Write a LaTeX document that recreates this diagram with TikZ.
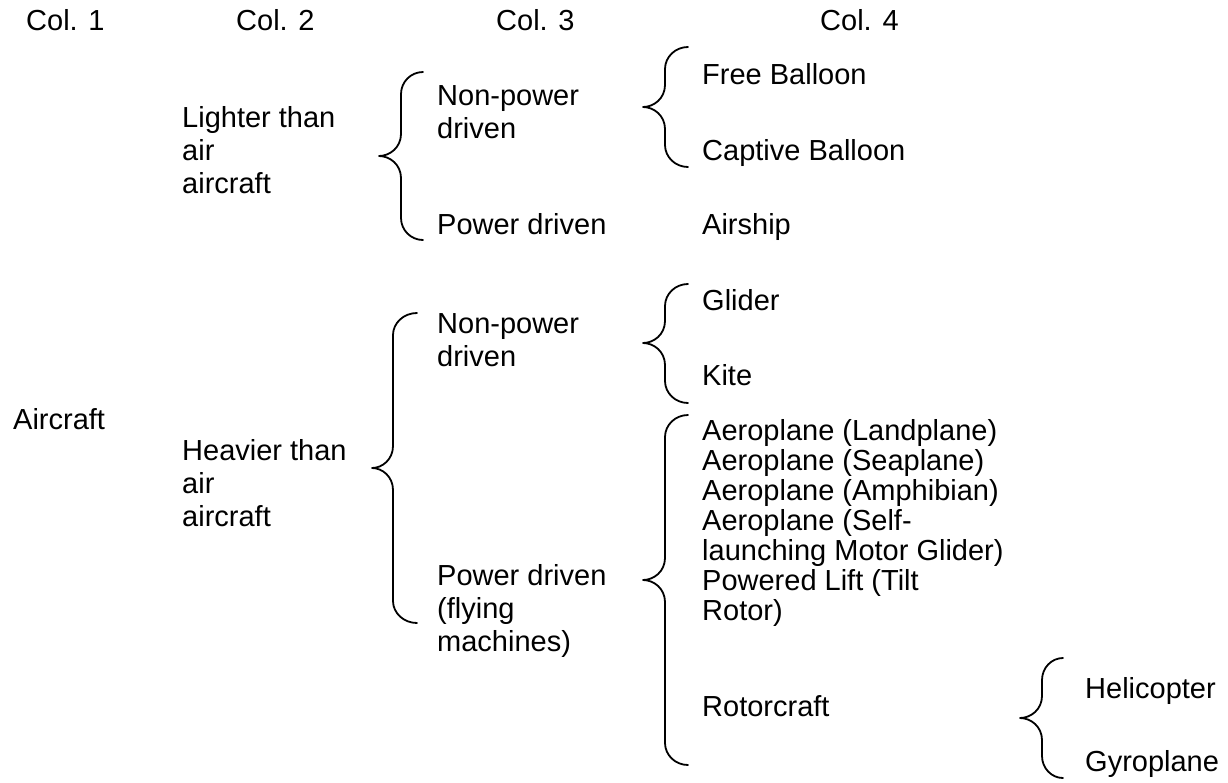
\documentclass[tikz,border=0pt]{standalone}
\usepackage{fontspec}
\setmainfont{Liberation Sans}

% stacked lines with a fixed pitch; the baseline is that of the first line
\newcommand\stackl[2]{\vtop{\baselineskip=#1pt\lineskiplimit=-50pt\lineskip=0pt\relax
  \halign{##\hfil\cr #2\crcr}}}

% left curly brace: #1 end x, #2 stem x, #3 tip x, #4 top y, #5 tip y, #6 bottom y, #7 curve length
\newcommand\bracepath[7]{%
  \draw[bracestyle] (#1,#4)
    .. controls ({#2+0.45*(#1-#2)},#4) and (#2,{#4+0.45*#7}) .. (#2,{#4+#7})
    -- (#2,{#5-#7})
    .. controls (#2,{#5-0.4*#7}) and ({#3+0.5*(#2-#3)},#5) .. (#3,#5)
    .. controls ({#3+0.5*(#2-#3)},#5) and (#2,{#5+0.4*#7}) .. (#2,{#5+#7})
    -- (#2,{#6-#7})
    .. controls (#2,{#6-0.45*#7}) and ({#2+0.45*(#1-#2)},#6) .. (#1,#6);}

\begin{document}
\begin{tikzpicture}[x=1pt,y=-1pt,
  txt/.style={anchor=base west,inner sep=0pt,font=\fontsize{29}{33}\selectfont},
  bracestyle/.style={line width=1.8pt,line cap=round,line join=round}]
\useasboundingbox[fill=white] (0,0) rectangle (1228,782);

% column headings
\node[txt] (c1) at (26,30) {Col. 1};
\node[txt] (c2) at (236,30) {Col. 2};
\node[txt] (c3) at (496,30) {Col. 3};
\node[txt] (c4) at (820,30) {Col. 4};

% column 1
\node[txt] (aircraft) at (13,429) {Aircraft};

% column 2
\node[txt] (lighter) at (182,127) {\stackl{33}{Lighter than\cr air\cr aircraft}};
\node[txt] (heavier) at (182,460) {\stackl{33}{Heavier than\cr air\cr aircraft}};

% column 3
\node[txt] (np1) at (437,105) {\stackl{33}{Non-power\cr driven}};
\node[txt] (pd1) at (437,234) {Power driven};
\node[txt] (np2) at (437,333) {\stackl{33}{Non-power\cr driven}};
\node[txt] (pd2) at (437,585) {\stackl{33}{Power driven\cr (flying\cr machines)}};

% column 4
\node[txt] (free) at (702,84) {Free Balloon};
\node[txt] (captive) at (702,160) {Captive Balloon};
\node[txt] (airship) at (702,234) {Airship};
\node[txt] (glider) at (702,310) {Glider};
\node[txt] (kite) at (702,385) {Kite};
\node[txt] (aeroplanes) at (702,440) {\stackl{30}{Aeroplane (Landplane)\cr
  Aeroplane (Seaplane)\cr Aeroplane (Amphibian)\cr Aeroplane (Self-\cr
  launching Motor Glider)\cr Powered Lift (Tilt\cr Rotor)}};
\node[txt] (rotorcraft) at (702,716) {Rotorcraft};

% rotorcraft types
\node[txt] (helicopter) at (1085,698) {Helicopter};
\node[txt] (gyroplane) at (1085,771) {Gyroplane};

% braces
\bracepath{423}{401}{379}{72}{156}{240}{22}
\bracepath{417}{393}{372}{313}{468}{623}{22}
\bracepath{688}{665}{643}{47}{107}{167}{22}
\bracepath{688}{665}{643}{284}{343}{403}{22}
\bracepath{688}{665}{643}{415}{580}{765}{22}
\bracepath{1063}{1042}{1020}{658}{718}{778}{22}
\end{tikzpicture}
\end{document}
